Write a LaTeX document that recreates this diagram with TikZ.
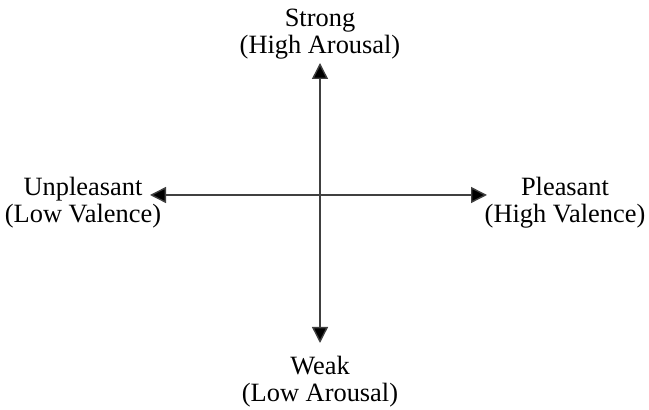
\documentclass[tikz,border=0pt]{standalone}
\usepackage{fontspec}
\setmainfont{Liberation Serif}
\usetikzlibrary{arrows.meta}

\begin{document}
\begin{tikzpicture}[x=0.5pt,y=-0.5pt,every node/.style={align=center, inner sep=0pt, font=\fontsize{13.2}{13.5}\selectfont},
  axis/.style={draw=black!75, line width=0.7pt, {Triangle[width=8pt,length=8pt,fill=black]}-{Triangle[width=8pt,length=8pt,fill=black]}}]

\useasboundingbox (0,0) rectangle (649,410);

\node (strong) at (320,34.5) {Strong\\(High Arousal)};
\node (weak) at (320,381.5) {Weak\\(Low Arousal)};
\node (unpl) at (83,202.5) {Unpleasant\\(Low Valence)};
\node (pleas) at (565,202.5) {Pleasant\\(High Valence)};

\coordinate (top) at (320,63);
\coordinate (bot) at (320,343);
\coordinate (lft) at (150,195);
\coordinate (rgt) at (487,195);

\draw[axis] (bot) -- (top);
\draw[axis] (lft) -- (rgt);
\end{tikzpicture}
\end{document}
